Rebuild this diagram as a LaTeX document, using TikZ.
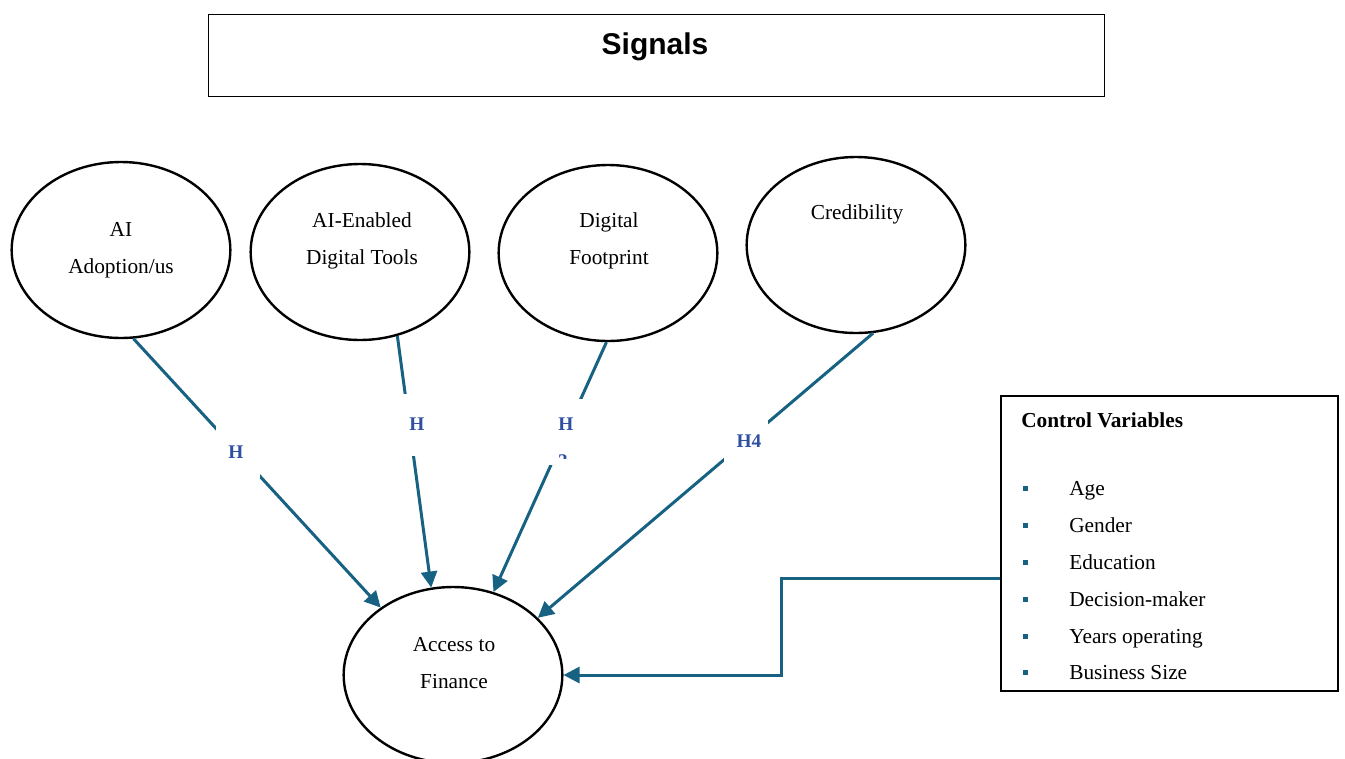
\documentclass[tikz,border=0pt]{standalone}
\usepackage{fontspec}
\setmainfont{Liberation Serif}
\newfontfamily\signalfont{Liberation Sans}
\usetikzlibrary{shapes.geometric,arrows.meta}
\definecolor{linkblue}{RGB}{23,97,130}
\definecolor{hypblue}{RGB}{47,79,162}
\begin{document}
\begin{tikzpicture}
  [x=0.75pt,y=-0.75pt,every node/.style={inner sep=0pt}]
  \tikzstyle{signal} = [draw,ellipse,line width=1.8pt,minimum width=164pt,minimum height=132pt]
  \tikzstyle{txt} = [align=center,font=\fontsize{16}{27.75}\selectfont]
  \tikzstyle{link} = [color=linkblue,line width=2.25pt,-{Triangle[length=12pt,width=12pt]}]
  \tikzstyle{gap} = [fill=white,minimum width=33pt]
  \tikzstyle{hyp} = [text=hypblue,font=\fontsize{14.5}{18}\selectfont\bfseries]
  \tikzstyle{cvar} = [anchor=west,text height=11pt,text depth=3.5pt,font=\fontsize{16}{20}\selectfont]
  \useasboundingbox (0,0) rectangle (1345,758);
  % title box
  \node[draw,line width=0.75pt,minimum width=672pt,minimum height=61.5pt] (sig) at (656,55) {};
  \node[font=\signalfont\bfseries\fontsize{22.5}{27}\selectfont] (sigtxt) at (655,47) {Signals};
  % signals and outcome
  \node[signal] (e1) at (121,250) {};
  \node[signal] (e2) at (360,252) {};
  \node[signal] (e3) at (608,253) {};
  \node[signal] (e4) at (856,245) {};
  \node[signal] (fin) at (453,675) {};
  \node[txt] (t1) at (121,250.5) {AI\\Adoption/us};
  \node[txt] (t2) at (362,240.5) {AI-Enabled\\Digital Tools};
  \node[txt] (t3) at (609,240.5) {Digital\\Footprint};
  \node[txt] (t4) at (857,214) {Credibility};
  \node[txt] (t5) at (454,663) {Access to\\Finance};
  \foreach \source/\dest in {e1.-82/fin.137,e2.-66/fin.104,e3.-91/fin.64,e4.-79/fin.34}
   \draw[link] (\source) -- (\dest);
  % hypothesis labels
  \foreach \name/\x/\y/\h in {g1/238/452/52,g2/417/425/62,g3/565/432/66,g4/746/440/52}
   \node[gap,minimum height=\h*0.75pt] (\name) at (\x,\y) {};
  \foreach \name/\x/\y/\lab in {h1/236/452/H,h2/417/424/H,h3/566/424/H,h4/749/441/H4}
   \node[hyp] (\name) at (\x,\y) {\lab};
  \begin{scope}
    \clip (540,448) rectangle (590,458);
    \node[hyp] (h3b) at (563,461) {3};
  \end{scope}
  % control variables
  \node[draw,line width=1pt,minimum width=252.75pt,minimum height=221.25pt] (ctrl) at (1169.5,543.5) {};
  \node[cvar,font=\fontsize{16}{20}\selectfont\bfseries] (ctitle) at (1021,422) {Control Variables};
  \foreach \cv [count=\i] in {Age,Gender,Education,Decision-maker,Years operating,Business Size} {
   \node[fill=linkblue,minimum size=3.75pt] (b\i) at (1025,452+36.8*\i) {};
   \node[cvar] (c\i) at (1069,454+36.8*\i) {\cv};
  }
  \coordinate (bend) at (781,675);
  \draw[link] ([yshift=-25.9pt]ctrl.west) -| (bend) |- (fin.east);
\end{tikzpicture}
\end{document}
